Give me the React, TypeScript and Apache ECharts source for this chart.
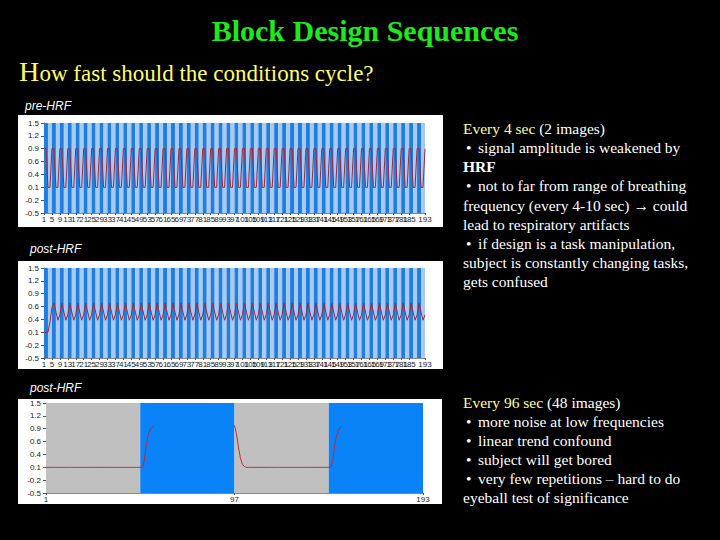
import React, { useEffect, useRef } from 'react';
import * as echarts from 'echarts';

// ---------- data ----------
const imageLabels: string[] = Array.from({ length: 193 }, (_, i) => String(i + 1));
const yTickLabels = ['-0.5', '-0.2', '0.1', '0.4', '0.6', '0.9', '1.2', '1.5'];
const Y_MIN = -0.5;
const Y_MAX = 1.5;

// fast design: blocks of 2 images, alternating (starts with "on")
const FAST_BLOCK_IMAGES = 2;
// slow design: blocks of 48 images
const slowBlocks = [
  { start: 1, end: 49, on: false },
  { start: 49, end: 97, on: true },
  { start: 97, end: 145, on: false },
  { start: 145, end: 193, on: true },
];

// pre-HRF signal, fast design (193 images)
const preHrfFast: (number | null)[] = [
  0.93, 0.93, 0.07, 0.07, 0.93, 0.93, 0.07, 0.07, 0.93, 0.93, 0.07, 0.07, 0.93, 0.93, 0.07, 0.07,
  0.93, 0.93, 0.07, 0.07, 0.93, 0.93, 0.07, 0.07, 0.93, 0.93, 0.07, 0.07, 0.93, 0.93, 0.07, 0.07,
  0.93, 0.93, 0.07, 0.07, 0.93, 0.93, 0.07, 0.07, 0.93, 0.93, 0.07, 0.07, 0.93, 0.93, 0.07, 0.07,
  0.93, 0.93, 0.07, 0.07, 0.93, 0.93, 0.07, 0.07, 0.93, 0.93, 0.07, 0.07, 0.93, 0.93, 0.07, 0.07,
  0.93, 0.93, 0.07, 0.07, 0.93, 0.93, 0.07, 0.07, 0.93, 0.93, 0.07, 0.07, 0.93, 0.93, 0.07, 0.07,
  0.93, 0.93, 0.07, 0.07, 0.93, 0.93, 0.07, 0.07, 0.93, 0.93, 0.07, 0.07, 0.93, 0.93, 0.07, 0.07,
  0.93, 0.93, 0.07, 0.07, 0.93, 0.93, 0.07, 0.07, 0.93, 0.93, 0.07, 0.07, 0.93, 0.93, 0.07, 0.07,
  0.93, 0.93, 0.07, 0.07, 0.93, 0.93, 0.07, 0.07, 0.93, 0.93, 0.07, 0.07, 0.93, 0.93, 0.07, 0.07,
  0.93, 0.93, 0.07, 0.07, 0.93, 0.93, 0.07, 0.07, 0.93, 0.93, 0.07, 0.07, 0.93, 0.93, 0.07, 0.07,
  0.93, 0.93, 0.07, 0.07, 0.93, 0.93, 0.07, 0.07, 0.93, 0.93, 0.07, 0.07, 0.93, 0.93, 0.07, 0.07,
  0.93, 0.93, 0.07, 0.07, 0.93, 0.93, 0.07, 0.07, 0.93, 0.93, 0.07, 0.07, 0.93, 0.93, 0.07, 0.07,
  0.93, 0.93, 0.07, 0.07, 0.93, 0.93, 0.07, 0.07, 0.93, 0.93, 0.07, 0.07, 0.93, 0.93, 0.07, 0.07,
  0.93,
];

// post-HRF signal, fast design (193 images)
const postHrfFast: (number | null)[] = [
  0.07, 0.07, 0.07, 0.3, 0.62, 0.72,
  0.52, 0.34, 0.46, 0.72, 0.52, 0.34, 0.46, 0.72, 0.52, 0.34, 0.46, 0.72, 0.52, 0.34, 0.46, 0.72,
  0.52, 0.34, 0.46, 0.72, 0.52, 0.34, 0.46, 0.72, 0.52, 0.34, 0.46, 0.72, 0.52, 0.34, 0.46, 0.72,
  0.52, 0.34, 0.46, 0.72, 0.52, 0.34, 0.46, 0.72, 0.52, 0.34, 0.46, 0.72, 0.52, 0.34, 0.46, 0.72,
  0.52, 0.34, 0.46, 0.72, 0.52, 0.34, 0.46, 0.72, 0.52, 0.34, 0.46, 0.72, 0.52, 0.34, 0.46, 0.72,
  0.52, 0.34, 0.46, 0.72, 0.52, 0.34, 0.46, 0.72, 0.52, 0.34, 0.46, 0.72, 0.52, 0.34, 0.46, 0.72,
  0.52, 0.34, 0.46, 0.72, 0.52, 0.34, 0.46, 0.72, 0.52, 0.34, 0.46, 0.72, 0.52, 0.34, 0.46, 0.72,
  0.52, 0.34, 0.46, 0.72, 0.52, 0.34, 0.46, 0.72, 0.52, 0.34, 0.46, 0.72, 0.52, 0.34, 0.46, 0.72,
  0.52, 0.34, 0.46, 0.72, 0.52, 0.34, 0.46, 0.72, 0.52, 0.34, 0.46, 0.72, 0.52, 0.34, 0.46, 0.72,
  0.52, 0.34, 0.46, 0.72, 0.52, 0.34, 0.46, 0.72, 0.52, 0.34, 0.46, 0.72, 0.52, 0.34, 0.46, 0.72,
  0.52, 0.34, 0.46, 0.72, 0.52, 0.34, 0.46, 0.72, 0.52, 0.34, 0.46, 0.72, 0.52, 0.34, 0.46, 0.72,
  0.52, 0.34, 0.46, 0.72, 0.52, 0.34, 0.46, 0.72, 0.52, 0.34, 0.46, 0.72, 0.52, 0.34, 0.46, 0.72,
  0.52, 0.34, 0.46, 0.72, 0.52, 0.34, 0.46, 0.72,
  0.52, 0.34, 0.46,
];

// post-HRF signal, slow design (193 images); null where the trace is not visible
const postHrfSlow: (number | null)[] = [
  0.07, 0.07, 0.07, 0.07, 0.07, 0.07, 0.07, 0.07, 0.07, 0.07,
  0.07, 0.07, 0.07, 0.07, 0.07, 0.07, 0.07, 0.07, 0.07, 0.07,
  0.07, 0.07, 0.07, 0.07, 0.07, 0.07, 0.07, 0.07, 0.07, 0.07,
  0.07, 0.07, 0.07, 0.07, 0.07, 0.07, 0.07, 0.07, 0.07, 0.07,
  0.07, 0.07, 0.07, 0.07, 0.07, 0.07, 0.07, 0.07, 0.07, 0.07,
  0.2, 0.55, 0.78, 0.9, 0.96, 1.0,
  null, null, null, null, null, null, null, null, null, null,
  null, null, null, null, null, null, null, null, null, null,
  null, null, null, null, null, null, null, null, null, null,
  null, null, null, null, null, null, null, null, null, null,
  1.0, 0.82, 0.52, 0.28, 0.14, 0.09, 0.07,
  0.07, 0.07, 0.07, 0.07, 0.07, 0.07, 0.07, 0.07, 0.07, 0.07,
  0.07, 0.07, 0.07, 0.07, 0.07, 0.07, 0.07, 0.07, 0.07, 0.07,
  0.07, 0.07, 0.07, 0.07, 0.07, 0.07, 0.07, 0.07, 0.07, 0.07,
  0.07, 0.07, 0.07, 0.07, 0.07, 0.07, 0.07, 0.07, 0.07, 0.07,
  0.07, 0.07, 0.07,
  0.2, 0.55, 0.78, 0.9, 0.96, 1.0,
  null, null, null, null, null, null, null, null, null, null,
  null, null, null, null, null, null, null, null, null, null,
  null, null, null, null, null, null, null, null, null, null,
  null, null, null, null, null, null, null, null, null, null,
  null,
];

const textBlock1 = [
  { rich: true, text: '{y|Every 4 sec} (2 images)' },
  { bullet: true, text: 'signal amplitude is weakened by' },
  { text: 'HRF', bold: true },
  { bullet: true, text: 'not to far from range of breathing' },
  { text: 'frequency (every 4-10 sec) \u2192 could' },
  { text: 'lead to respiratory artifacts' },
  { bullet: true, text: 'if design is a task manipulation,' },
  { text: 'subject is constantly changing tasks,' },
  { text: 'gets confused' },
];
const textBlock2 = [
  { rich: true, text: '{y|Every 96 sec} (48 images)' },
  { bullet: true, text: 'more noise at low frequencies' },
  { bullet: true, text: 'linear trend confound' },
  { bullet: true, text: 'subject will get bored' },
  { bullet: true, text: 'very few repetitions \u2013 hard to do' },
  { text: 'eyeball test of significance' },
];

// ---------- helpers ----------
const STEPS = yTickLabels.length - 1;
const toAxis = (v: number | null) => (v == null ? null : ((v - Y_MIN) / (Y_MAX - Y_MIN)) * STEPS);

function fastBands(onColor: string, offColor: string) {
  const out: any[] = [];
  let on = true;
  for (let s = 1; s < imageLabels.length; s += FAST_BLOCK_IMAGES) {
    const e = Math.min(s + FAST_BLOCK_IMAGES, imageLabels.length);
    out.push([
      { xAxis: String(s), itemStyle: { color: on ? onColor : offColor, opacity: 1, borderWidth: 0 } },
      { xAxis: String(e) },
    ]);
    on = !on;
  }
  return out;
}
function slowBands(onColor: string, offColor: string) {
  return slowBlocks.map((b) => [
    { xAxis: String(b.start), itemStyle: { color: b.on ? onColor : offColor, opacity: 1, borderWidth: 0 } },
    { xAxis: String(b.end) },
  ]);
}

const SERIF = 'Liberation Serif';
const SANS = 'Liberation Sans';

function buildOption() {
  const grids = [
    { left: 44, top: 123, width: 381, height: 90 },
    { left: 44, top: 268, width: 381, height: 90 },
    { left: 46, top: 403, width: 377, height: 90 },
  ];
  const labelIntervals = [3, 3, 95];
  const xAxis = grids.map((_, i) => ({
    type: 'category',
    gridIndex: i,
    data: imageLabels,
    boundaryGap: false,
    axisLine: { show: true, lineStyle: { color: '#888', width: 1 } },
    axisTick: { show: true, length: 2, interval: labelIntervals[i], lineStyle: { color: '#555' } },
    axisLabel: {
      interval: labelIntervals[i],
      fontSize: 8,
      color: '#222',
      margin: 2,
      fontFamily: SANS,
      hideOverlap: false,
      showMinLabel: true,
      showMaxLabel: true,
    },
    splitLine: { show: false },
  }));
  const yAxis = grids.map((_, i) => ({
    type: 'value',
    gridIndex: i,
    min: 0,
    max: STEPS,
    interval: 1,
    axisLine: { show: true, lineStyle: { color: '#888', width: 1 } },
    axisTick: { show: true, length: 3, lineStyle: { color: '#555' } },
    axisLabel: {
      fontSize: 8,
      color: '#222',
      margin: 5,
      fontFamily: SANS,
      formatter: (v: number) => yTickLabels[Math.round(v)] ?? '',
    },
    splitLine: { show: false },
  }));

  const lineColor = '#a02840';
  const series: any[] = [
    {
      type: 'line', xAxisIndex: 0, yAxisIndex: 0, data: [], z: 1, silent: true,
      markArea: { silent: true, label: { show: false }, data: fastBands('#1f7fe0', '#a9c9ee') },
    },
    {
      type: 'line', xAxisIndex: 0, yAxisIndex: 0, z: 3, silent: true, symbol: 'none',
      lineStyle: { color: lineColor, width: 1 }, data: preHrfFast.map(toAxis),
    },
    {
      type: 'line', xAxisIndex: 1, yAxisIndex: 1, data: [], z: 1, silent: true,
      markArea: { silent: true, label: { show: false }, data: fastBands('#1f7fe0', '#a9c9ee') },
    },
    {
      type: 'line', xAxisIndex: 1, yAxisIndex: 1, z: 3, silent: true, symbol: 'none',
      lineStyle: { color: lineColor, width: 1 }, data: postHrfFast.map(toAxis),
    },
    {
      type: 'line', xAxisIndex: 2, yAxisIndex: 2, data: [], z: 1, silent: true,
      markArea: { silent: true, label: { show: false }, data: slowBands('#0a82f8', '#c0c0c0') },
    },
    {
      type: 'line', xAxisIndex: 2, yAxisIndex: 2, z: 3, silent: true, symbol: 'none',
      connectNulls: false,
      lineStyle: { color: '#b0303c', width: 1 }, data: postHrfSlow.map(toAxis),
    },
  ];

  const graphics: any[] = [];
  // white panels
  const panels = [
    { x: 18, y: 115, w: 425, h: 112 },
    { x: 18, y: 261, w: 425, h: 108 },
    { x: 18, y: 399, w: 424, h: 105 },
  ];
  panels.forEach((p) =>
    graphics.push({ type: 'rect', z: -10, silent: true, shape: { x: p.x, y: p.y, width: p.w, height: p.h }, style: { fill: '#ffffff' } })
  );
  // panel labels
  const panelLabels = [
    { t: 'pre-HRF', x: 25, y: 106 },
    { t: 'post-HRF', x: 30, y: 249 },
    { t: 'post-HRF', x: 30, y: 388 },
  ];
  panelLabels.forEach((l) =>
    graphics.push({
      type: 'text', x: l.x, y: l.y, silent: true,
      style: { text: l.t, fill: '#ffffff', fontSize: 12, fontStyle: 'italic', fontFamily: SANS, align: 'left', verticalAlign: 'middle' },
    })
  );
  // title
  graphics.push({
    type: 'text', x: 365, y: 30, silent: true,
    style: { text: 'Block Design Sequences', fill: '#1ee81e', fontSize: 30, fontWeight: 'bold', fontFamily: SERIF, align: 'center', verticalAlign: 'middle' },
  });
  // subtitle
  graphics.push({
    type: 'text', x: 19, y: 71.5, silent: true,
    style: { text: 'H', fill: '#ffff55', fontSize: 28, fontFamily: SERIF, align: 'left', verticalAlign: 'middle' },
  });
  graphics.push({
    type: 'text', x: 39.5, y: 73.2, silent: true,
    style: { text: 'ow fast should the conditions cycle?', fill: '#ffff66', fontSize: 23, fontFamily: SERIF, align: 'left', verticalAlign: 'middle' },
  });

  const addBlock = (lines: any[], y0: number, dy: number) => {
    lines.forEach((ln, i) => {
      const y = y0 + i * dy;
      if (ln.bullet) {
        graphics.push({
          type: 'text', x: 466, y, silent: true,
          style: { text: '\u2022', fill: '#ffffff', fontSize: 15.5, fontFamily: SERIF, align: 'left', verticalAlign: 'middle' },
        });
      }
      graphics.push({
        type: 'text', x: ln.bullet ? 478 : 463, y, silent: true,
        style: {
          text: ln.text,
          fill: '#ffffff',
          fontSize: 15.5,
          fontWeight: ln.bold ? 'bold' : 'normal',
          fontFamily: SERIF,
          align: 'left',
          verticalAlign: 'middle',
          rich: ln.rich ? { y: { fill: '#ffff99', color: '#ffff99', fontSize: 15.5, fontFamily: SERIF } } : undefined,
        },
      });
    });
  };
  addBlock(textBlock1, 128.5, 19.15);
  addBlock(textBlock2, 402.5, 18.9);

  return {
    animation: false,
    backgroundColor: '#000000',
    grid: grids.map((g) => ({ ...g, containLabel: false, show: false })),
    xAxis,
    yAxis,
    series,
    graphic: { elements: graphics },
  };
}

export default function App() {
  const ref = useRef<HTMLDivElement>(null);
  useEffect(() => {
    if (!ref.current) return;
    const chart = echarts.init(ref.current, null, { renderer: 'svg', width: 720, height: 540 });
    chart.setOption(buildOption() as any);
    return () => chart.dispose();
  }, []);
  return <div ref={ref} style={{ position: 'fixed', left: 0, top: 0, width: 720, height: 540, background: '#000' }} />;
}
